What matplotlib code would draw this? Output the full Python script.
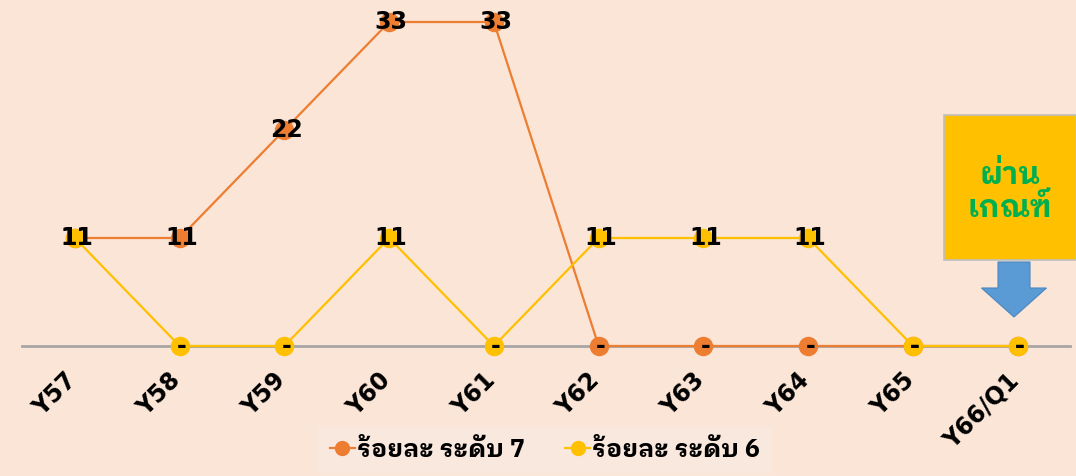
import matplotlib
matplotlib.use("Agg")
import matplotlib.pyplot as plt
from matplotlib.lines import Line2D
from matplotlib.patches import Rectangle, FancyArrow
from matplotlib.transforms import ScaledTranslation

categories = ["Y57", "Y58", "Y59", "Y60", "Y61", "Y62", "Y63", "Y64", "Y65", "Y66/Q1"]
level7 = [11, 11, 22, 33, 33, 0, 0, 0, 0, 0]
level6 = [11, 0, 0, 11, 0, 11, 11, 11, 0, 0]
series_names = ["ร้อยละ ระดับ 7", "ร้อยละ ระดับ 6"]
box_text = "ผ่าน\nเกณฑ์"

THAI = ["IBM Plex Sans Thai Looped", "DejaVu Sans"]
BG = "#FBE5D6"
ORANGE = "#ED7D31"
YELLOW = "#FFC000"

fig = plt.figure(figsize=(10.76, 4.76), dpi=100, facecolor=BG)
ax = fig.add_axes([22/1076, 1 - 346/476, (1070-22)/1076, 346/476])
ax.set_facecolor(BG)
ax.patch.set_alpha(0)
x = list(range(len(categories)))
ax.set_xlim(-0.505, 9.5)
ax.set_ylim(0, 346/9.818)

for s in ["top", "right", "left"]:
    ax.spines[s].set_visible(False)
ax.spines["bottom"].set_color("#A6A6A6")
ax.spines["bottom"].set_linewidth(2)
ax.spines["bottom"].set_zorder(1)
ax.set_yticks([])
ax.set_xticks(x)
ax.set_xticklabels(categories, rotation=45, ha="right", va="top",
                   rotation_mode="anchor", fontsize=17, fontweight="bold",
                   color="black")
ax.tick_params(axis="x", length=0, pad=16)
off = ScaledTranslation(-11/100, 0, fig.dpi_scale_trans)
for t in ax.get_xticklabels():
    t.set_transform(t.get_transform() + off)

l7, = ax.plot(x, level7, color=ORANGE, lw=1.6, marker="o", ms=13,
              clip_on=False, zorder=3)
l6, = ax.plot(x, level6, color=YELLOW, lw=1.6, marker="o", ms=13,
              clip_on=False, zorder=4)

def lab(v):
    return "-" if v == 0 else f"{v}"

for series in (level7, level6):
    for xi, v in zip(x, series):
        ax.text(xi + 0.02, v, lab(v), ha="center", va="center", fontsize=17,
                fontweight="bold", color="black", zorder=6, clip_on=False)

# annotation box
fig.patches.append(Rectangle((944/1076, 1 - 260/476), (1076-944)/1076,
                             (260-115)/476, transform=fig.transFigure,
                             facecolor=YELLOW, edgecolor="#BFBFBF", lw=1.2,
                             zorder=5))
fig.text(1010/1076, 1 - 192/476, box_text, ha="center", va="center",
         fontsize=22, fontweight="bold", color="#00B050", family=THAI,
         linespacing=1.15, zorder=6)
# arrow
fig.patches.append(FancyArrow(1014/1076, 1 - 262/476, 0, -(317-262)/476,
                              width=32/1076, head_width=65/1076,
                              head_length=(317-288)/476,
                              length_includes_head=True,
                              transform=fig.transFigure,
                              facecolor="#5B9BD5", edgecolor="#4A86C0",
                              lw=0.8, zorder=5))

handles = [Line2D([0], [0], color=ORANGE, lw=1.6, marker="o", ms=10),
           Line2D([0], [0], color=YELLOW, lw=1.6, marker="o", ms=10)]
leg = fig.legend(handles, series_names, loc="lower center",
                 bbox_to_anchor=(545/1076, -0.02), ncol=2, frameon=True,
                 facecolor="#F9E8DE", edgecolor="none", fancybox=False,
                 handlelength=1.0, handletextpad=0.1, columnspacing=1.6,
                 borderpad=0.45,
                 prop={"family": THAI, "weight": "bold", "size": 18})
leg.get_frame().set_alpha(1)

fig.savefig("out.png", dpi=100, facecolor=BG)
